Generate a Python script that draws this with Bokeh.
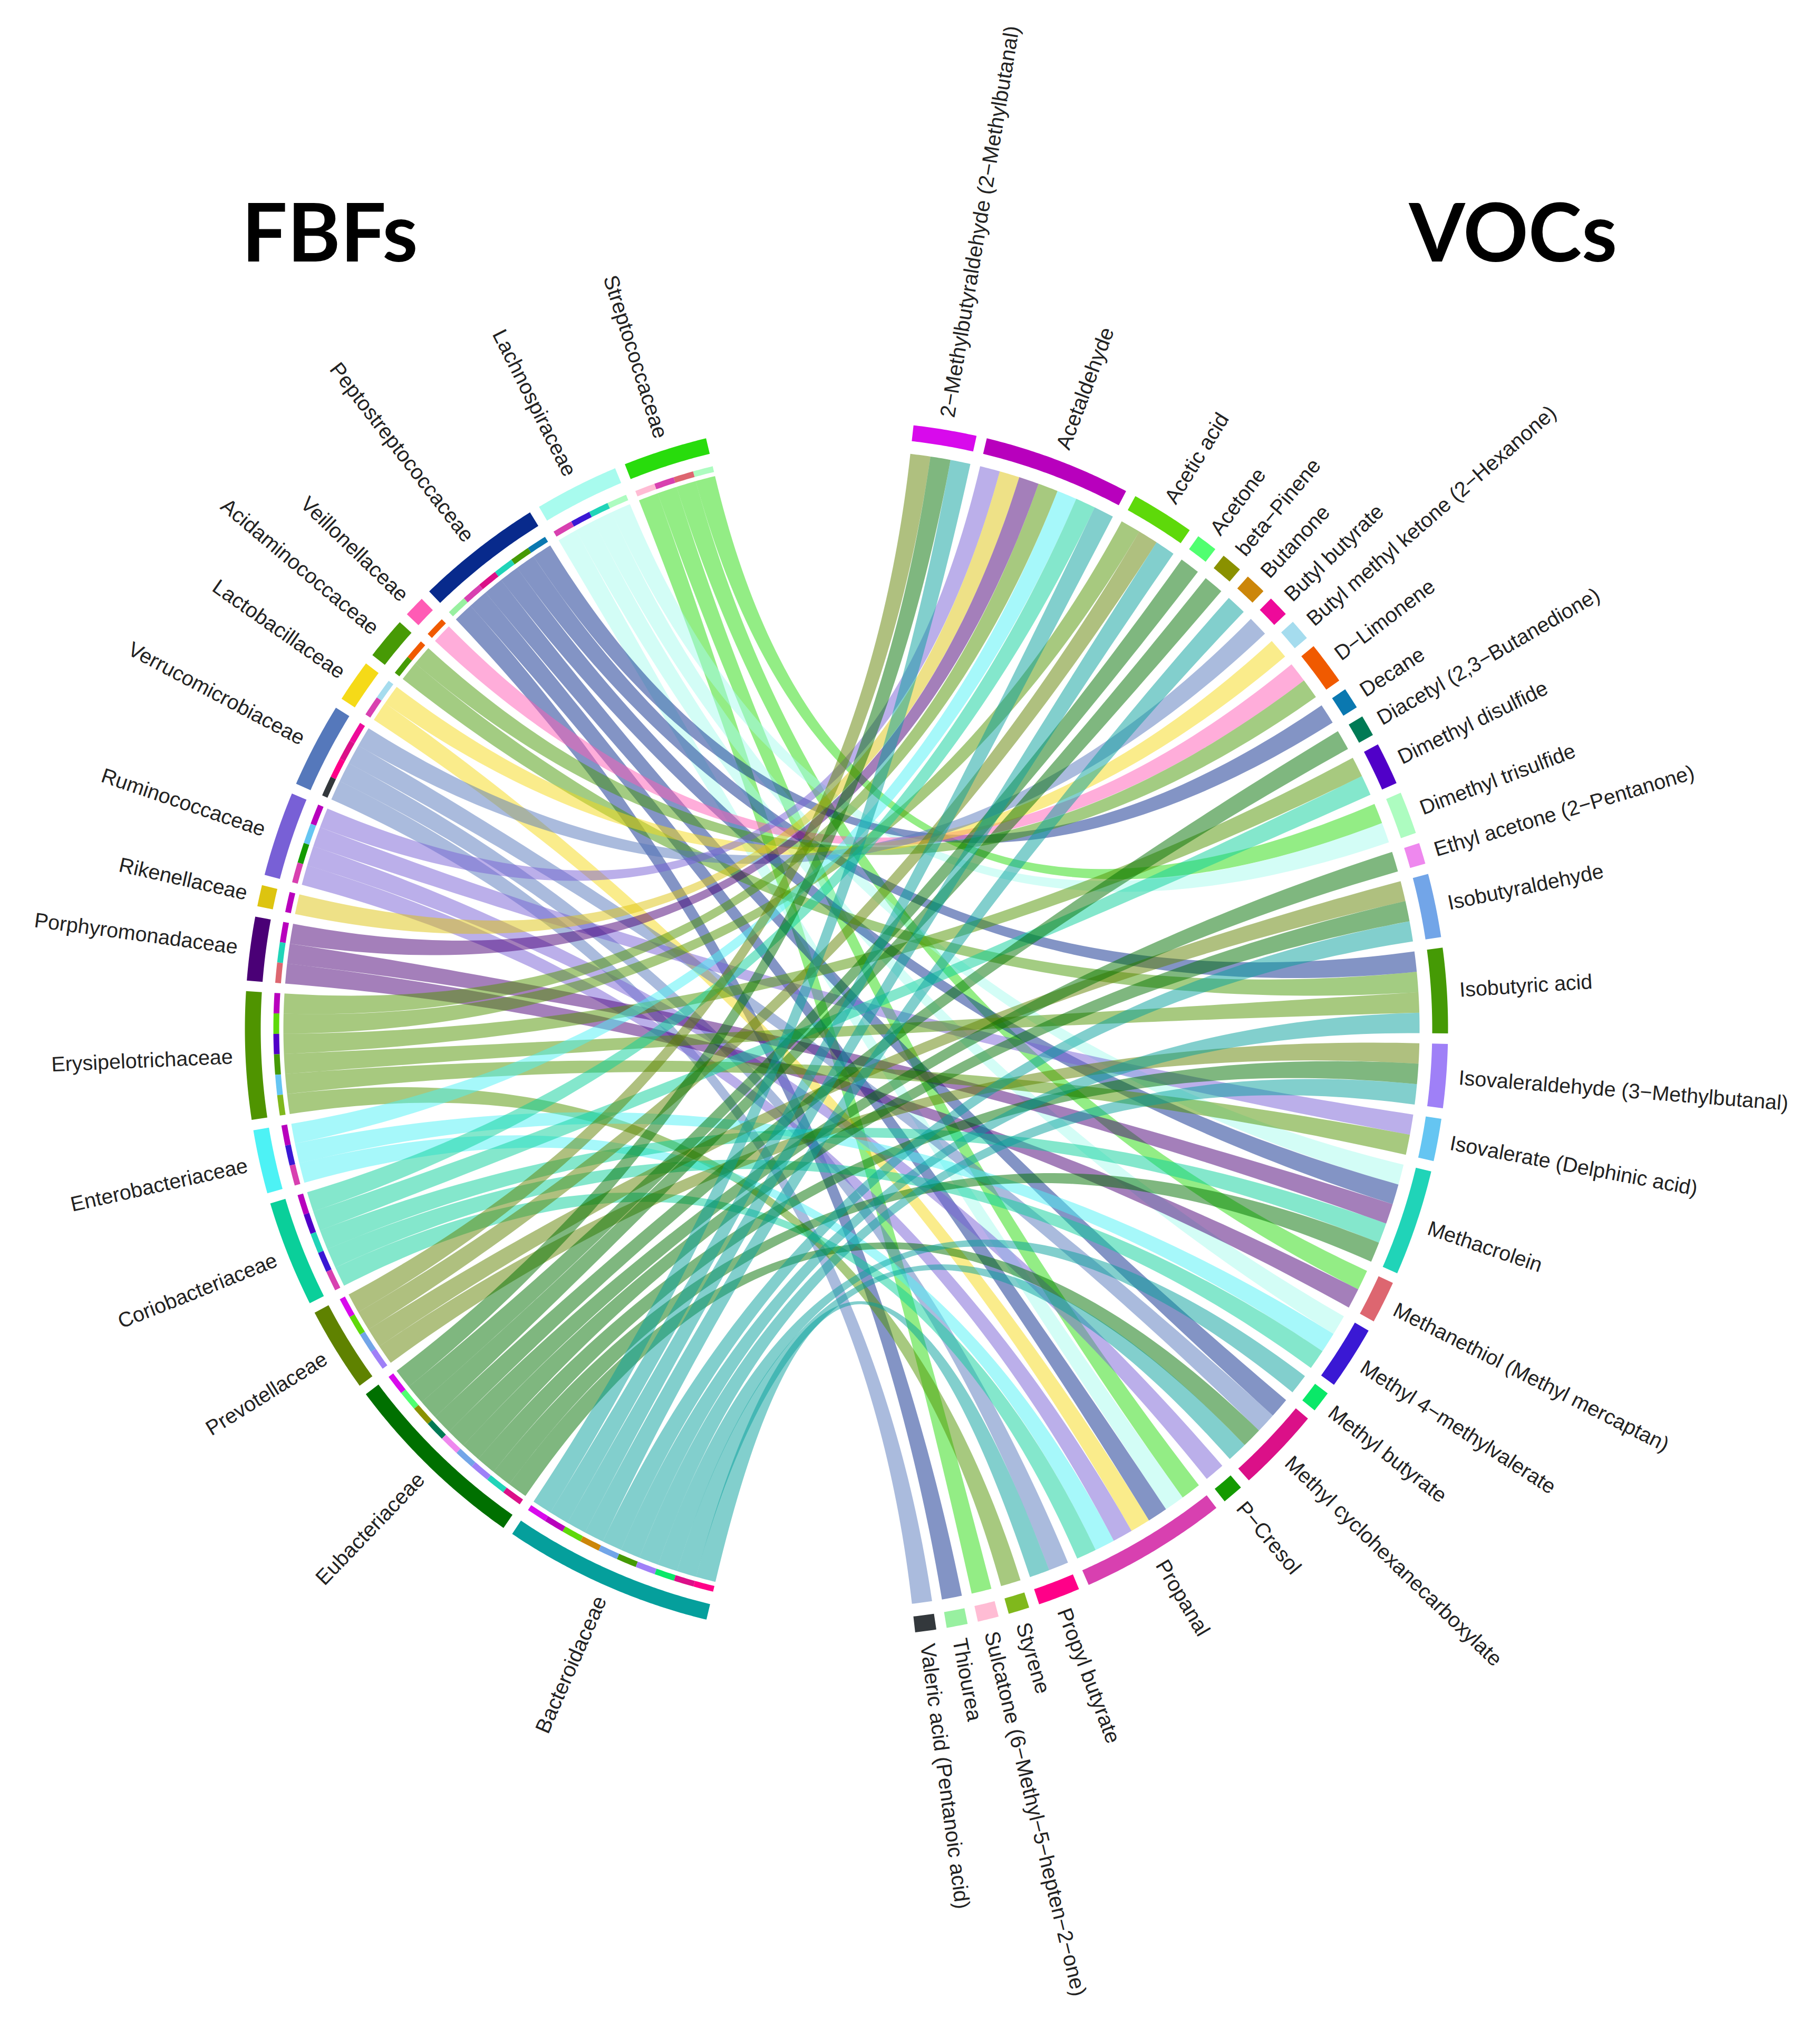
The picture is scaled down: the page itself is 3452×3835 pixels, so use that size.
import numpy as np
from bokeh.plotting import figure
from bokeh.models import Range1d
from bokeh.core.properties import value
from bokeh.embed import file_html
from bokeh.resources import INLINE

fbf_names = ["Streptococcaceae", "Lachnospiraceae", "Peptostreptococcaceae", "Veillonellaceae",
             "Acidaminococcaceae", "Lactobacillaceae", "Verrucomicrobiaceae", "Ruminococcaceae",
             "Rikenellaceae", "Porphyromonadaceae", "Erysipelotrichaceae", "Enterobacteriaceae",
             "Coriobacteriaceae", "Prevotellaceae", "Eubacteriaceae", "Bacteroidaceae"]
fbf_colors = ["#28dc0c", "#a8fbee", "#082a8c", "#ff5bb5", "#479a05", "#f5da18", "#5578bb", "#7860d6",
              "#ddc410", "#4a0076", "#4f9400", "#4df2f5", "#0acf9a", "#5f8200", "#007000", "#059f9c"]

voc_names = ["2−Methylbutyraldehyde (2−Methylbutanal)", "Acetaldehyde", "Acetic acid", "Acetone",
             "beta−Pinene", "Butanone", "Butyl butyrate", "Butyl methyl ketone (2−Hexanone)",
             "D−Limonene", "Decane", "Diacetyl (2,3−Butanedione)", "Dimethyl disulfide",
             "Dimethyl trisulfide", "Ethyl acetone (2−Pentanone)", "Isobutyraldehyde", "Isobutyric acid",
             "Isovaleraldehyde (3−Methylbutanal)", "Isovalerate (Delphinic acid)", "Methacrolein",
             "Methanethiol (Methyl mercaptan)", "Methyl 4−methylvalerate", "Methyl butyrate",
             "Methyl cyclohexanecarboxylate", "P−Cresol", "Propanal", "Propyl butyrate", "Styrene",
             "Sulcatone (6−Methyl−5−hepten−2−one)", "Thiourea", "Valeric acid (Pentanoic acid)"]
voc_colors = ["#d80aec", "#b800bd", "#5ed90a", "#50ff70", "#8a9100", "#cc860a", "#ee0a9a", "#a5dcee",
              "#f05a00", "#0a78b0", "#007a55", "#5000c8", "#adfcc0", "#ee88ee", "#72a5e8", "#459a05",
              "#9f80f7", "#65c5f2", "#20d4b8", "#dd6670", "#3a18d4", "#0ae868", "#db1088", "#149a00",
              "#d840b0", "#ff0088", "#80b81c", "#ffbcd4", "#98f0a0", "#33383c"]

# Which VOC indices each family links to (every link has weight 1)
links_strep = [12, 19, 24, 27]
links_lachno = [12, 18, 20, 24]
links_pepto = [9, 15, 18, 22, 24, 28]
links_veillon = [8]
links_acid = [8, 15]
links_lacto = [7, 24]
links_verruco = [6, 22, 25, 29]
links_rumino = [1, 17, 23, 24]
links_riken = [1]
links_porphyro = [1, 18, 19]
links_erysip = [1, 2, 11, 15, 17, 26]
links_entero = [1, 20, 24]
links_corio = [1, 11, 18, 20, 24]
links_prevo = [0, 2, 14, 16]
links_eub = [0, 3, 4, 10, 13, 14, 16, 18, 22]
links_bact = [0, 1, 2, 5, 14, 15, 16, 21, 22, 25]
fbf_links = [links_strep, links_lachno, links_pepto, links_veillon, links_acid, links_lacto,
             links_verruco, links_rumino, links_riken, links_porphyro, links_erysip, links_entero,
             links_corio, links_prevo, links_eub, links_bact]

# layout (image pixels / degrees clockwise from top)
CX, CY = 1613, 1959
RX, RY = 1141.0, 1152.0
UNIT, GAP = 2.03, 1.0
START_VOC, START_FBF = 6.4, 346.5
R_RING_O, R_RING_I, R_TRK_O, R_TRK_I, R_LINK_F, R_LINK_V, R_LABEL = 1141, 1111, 1087, 1076, 1068, 1087, 1165
SQ = RY / RX


def pt(bearing, r):
    b = np.radians(bearing)
    return np.sin(b) * r, np.cos(b) * r


def band(b0, b1, r0, r1):
    n = max(int(abs(b1 - b0) * 4), 2)
    bs = np.linspace(b0, b1, n)
    xo, yo = pt(bs, r0)
    xi, yi = pt(bs[::-1], r1)
    return list(np.r_[xo, xi]), list(np.r_[yo, yi] * SQ)


def edge(b0, r0, b1, r1):
    """Quadratic curve between two circle points with its control point at the centre."""
    p0 = np.array(pt(b0, r0))
    p2 = np.array(pt(b1, r1))
    t = np.linspace(0, 1, 100)[:, None]
    return (1 - t) ** 2 * p0 + t ** 2 * p2


voc_count = [sum(i in l for l in fbf_links) for i in range(len(voc_names))]

# VOC sectors
voc_pos, voc_used = [], [0] * len(voc_names)
b = START_VOC
for c in voc_count:
    voc_pos.append(b)
    b += c * UNIT + GAP

# FBF sectors (running counter-clockwise from the top)
fbf_pos = []
b = START_FBF
for l in fbf_links:
    fbf_pos.append(b)
    b -= len(l) * UNIT + GAP

ring_x, ring_y, ring_c = [], [], []
trk_x, trk_y, trk_c = [], [], []
rib_x, rib_y, rib_c = [], [], []
lab_x, lab_y, lab_t, lab_a, lab_al, lab_s = [], [], [], [], [], []


def add_label(name, bearing):
    x, y = pt(bearing, R_LABEL)
    lab_x.append(x)
    lab_y.append(y * SQ)
    lab_t.append(name)
    lab_s.append(f"{39.5 + 0.8 * np.cos(np.radians(bearing)) ** 2:.2f}px")
    if bearing < 180:
        lab_a.append(np.radians(90 - bearing))
        lab_al.append("left")
    else:
        lab_a.append(np.radians(270 - bearing))
        lab_al.append("right")


for fi, l in enumerate(fbf_links):
    hi = fbf_pos[fi]
    lo = hi - len(l) * UNIT
    x, y = band(lo, hi, R_RING_O, R_RING_I)
    ring_x.append(x); ring_y.append(y); ring_c.append(fbf_colors[fi])
    add_label(fbf_names[fi], (hi + lo) / 2)
    for k, vi in enumerate(l):
        a_hi = hi - k * UNIT
        a_lo = a_hi - UNIT
        x, y = band(a_lo, a_hi, R_TRK_O, R_TRK_I)
        trk_x.append(x); trk_y.append(y); trk_c.append(voc_colors[vi])
        v_lo = voc_pos[vi] + voc_used[vi] * UNIT
        v_hi = v_lo + UNIT
        voc_used[vi] += 1
        e1 = edge(a_hi, R_LINK_F, v_lo, R_LINK_V)
        e2 = edge(v_hi, R_LINK_V, a_lo, R_LINK_F)
        arc_v = np.array(pt(np.linspace(v_lo, v_hi, 8), R_LINK_V)).T
        arc_f = np.array(pt(np.linspace(a_lo, a_hi, 8), R_LINK_F)).T
        poly = np.vstack([e1, arc_v, e2, arc_f])
        rib_x.append(list(poly[:, 0])); rib_y.append(list(poly[:, 1] * SQ)); rib_c.append(fbf_colors[fi])

for vi, c in enumerate(voc_count):
    lo = voc_pos[vi]
    hi = lo + c * UNIT
    x, y = band(lo, hi, R_RING_O, R_RING_I)
    ring_x.append(x); ring_y.append(y); ring_c.append(voc_colors[vi])
    add_label(voc_names[vi], (hi + lo) / 2)

W, H = 3436, 3819
p = figure(width=W, height=H, output_backend="svg", toolbar_location=None,
           x_range=Range1d(8 - CX, 8 + W - CX), y_range=Range1d(CY - 8 - H, CY - 8),
           min_border=0, outline_line_color=None)
p.axis.visible = False
p.grid.visible = False

p.patches(rib_x, rib_y, fill_color=rib_c, fill_alpha=0.5, line_color=None)
p.patches(ring_x, ring_y, fill_color=ring_c, line_color=None)
p.patches(trk_x, trk_y, fill_color=trk_c, line_color=None)

for al in ("left", "right"):
    idx = [i for i, a in enumerate(lab_al) if a == al]
    p.text([lab_x[i] for i in idx], [lab_y[i] for i in idx], text=[lab_t[i] for i in idx],
           angle=[lab_a[i] for i in idx], text_align=al, text_baseline="middle",
           text_font=value("Liberation Sans"), text_font_size=[lab_s[i] for i in idx], text_color="#222222")

title_text = ["FBFs", "VOCs"]
title_x = [466 - CX, 2680 - CX]
title_y = [CY - 444, CY - 444]
p.text(title_x, title_y, text=title_text, text_align="left", text_baseline="alphabetic",
       text_font=value("Lato"), text_font_style="bold", text_font_size="153px", text_color="#000000")

open("out.html", "w").write(file_html(p, INLINE))
